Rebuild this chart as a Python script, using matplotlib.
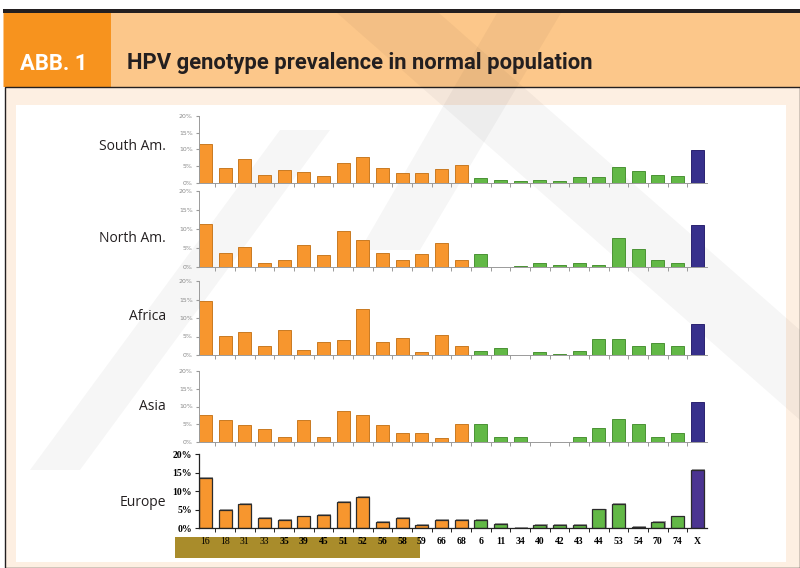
import numpy as np
import matplotlib.pyplot as plt
from matplotlib.patches import Rectangle, Polygon

# HPV genotypes: high-risk (orange), low-risk (green), unknown X (purple)
genotypes = ['16', '18', '31', '33', '35', '39', '45', '51', '52', '56', '58', '59', '66', '68',
             '6', '11', '34', '40', '42', '43', '44', '53', '54', '70', '74', 'X']
n_high = 14
n_low = 11

regions = ['South Am.', 'North Am.', 'Africa', 'Asia', 'Europe']

south_am = [11.5, 4.5, 7.2, 2.2, 3.7, 3.3, 2.0, 6.0, 7.8, 4.3, 3.0, 3.0, 4.1, 5.2,
            1.4, 0.8, 0.4, 0.8, 0.4, 1.6, 1.8, 4.6, 3.4, 2.2, 1.9, 9.8]
north_am = [11.3, 3.5, 5.1, 1.0, 1.9, 5.8, 3.0, 9.5, 7.0, 3.6, 1.9, 3.4, 6.2, 1.8,
            3.4, 0.0, 0.3, 0.9, 0.4, 1.1, 0.5, 7.7, 4.8, 1.9, 1.1, 10.9]
africa = [14.6, 5.1, 6.2, 2.5, 6.8, 1.4, 3.5, 4.1, 12.3, 3.6, 4.5, 0.7, 5.5, 2.4,
          1.0, 1.9, 0.0, 0.7, 0.4, 1.0, 4.2, 4.2, 2.5, 3.2, 2.5, 8.3]
asia = [7.5, 6.3, 4.9, 3.8, 1.4, 6.3, 1.4, 8.8, 7.5, 4.9, 2.5, 2.5, 1.3, 5.0,
        5.0, 1.4, 1.4, 0.0, 0.0, 1.4, 3.9, 6.4, 5.0, 1.4, 2.5, 11.3]
europe = [13.7, 5.0, 6.6, 2.8, 2.3, 3.2, 3.5, 7.0, 8.4, 1.6, 2.7, 0.8, 2.3, 2.3,
          2.3, 1.1, 0.0, 0.8, 0.8, 0.8, 5.1, 6.7, 0.4, 1.6, 3.2, 15.8]
series = [south_am, north_am, africa, asia, europe]

W, H = 800, 568
fig = plt.figure(figsize=(W / 100, H / 100), dpi=100)


def fx(x):
    return x / W


def fy(y):
    return 1 - y / H


def add_rect(x0, y0, x1, y1, z=-10, **kw):
    fig.patches.append(Rectangle((fx(x0), fy(y1)), fx(x1) - fx(x0), fy(y0) - fy(y1),
                                 transform=fig.transFigure, zorder=z, **kw))


title_font = ['Roboto', 'DejaVu Sans']

# header
add_rect(3, 9.5, 800, 13, facecolor='#231f20', edgecolor='none')
add_rect(3, 13, 800, 87, facecolor='#fcc78a', edgecolor='none')
add_rect(4, 13, 111, 87, facecolor='#f7931e', edgecolor='none')
fig.text(fx(20), fy(63.5), 'ABB. 1', color='white', fontsize=15.8, fontweight='bold',
         family=title_font, va='center', ha='left')
fig.text(fx(127), fy(63.5), 'HPV genotype prevalence in normal population', color='#231f20',
         fontsize=15.8, fontweight='bold', family=title_font, va='center', ha='left')

# body frame
add_rect(5, 87, 800, 568, facecolor='#fdefe2', edgecolor='#231f20', linewidth=1.0)
add_rect(16, 105, 786, 562, z=-9, facecolor='white', edgecolor='none')

# faint watermark
wm = [[(337, 13), (439, 13), (800, 330), (800, 420)],
      [(497, 13), (561, 13), (420, 250), (360, 250)],
      [(30, 470), (80, 470), (330, 130), (280, 130)]]
for pts in wm:
    fig.patches.append(Polygon([(fx(a), fy(b)) for a, b in pts], closed=True,
                               transform=fig.transFigure, facecolor='black', zorder=-8,
                               alpha=0.035, edgecolor='none'))

colors = ['#f7962e'] * n_high + ['#62b846'] * n_low + ['#37308c']
edges = ['#c97a22'] * n_high + ['#4a9234'] * n_low + ['#2a2270']

# panel positions in pixels: (top of 20%, bottom at 0%)
panel_px = [(116, 182.7), (191, 266.7), (281, 355), (370.7, 442.3), (454.3, 528.3)]
label_y = [146, 238, 316, 406, 503]
x_left, x_right = 199, 707
x = np.arange(len(genotypes))

for i, (name, vals) in enumerate(zip(regions, series)):
    top, bot = panel_px[i]
    ax = fig.add_axes([fx(x_left), fy(bot), fx(x_right) - fx(x_left), fy(top) - fy(bot)])
    ax.set_facecolor('none')
    europe_style = name == 'Europe'
    if europe_style:
        eu_colors = colors[:-1] + ['#4b3491']
        ax.bar(x + 0.06, np.array(vals) + 0.25, width=0.66, color='#a0a0a0', edgecolor='none',
               zorder=1)
        ax.bar(x, vals, width=0.66, color=eu_colors, edgecolor='#2b2b2b', linewidth=0.9,
               zorder=2)
        spine_c = '#222222'
    else:
        ax.bar(x, vals, width=0.66, color=colors, edgecolor=edges, linewidth=0.7)
        spine_c = '#9a9a9a'
    ax.set_xlim(-0.33, len(genotypes) - 0.5)
    ax.set_ylim(0, 20)
    for s in ['top', 'right']:
        ax.spines[s].set_visible(False)
    for s in ['left', 'bottom']:
        ax.spines[s].set_color(spine_c)
        ax.spines[s].set_linewidth(0.9 if europe_style else 0.7)
    ax.set_yticks([0, 5, 10, 15, 20])
    ax.set_yticklabels(['0%', '5%', '10%', '15%', '20%'])
    ax.set_xticks(x[:-1] + 0.5, minor=True)
    ax.tick_params(axis='x', which='minor', length=3, color=spine_c, width=0.7)
    if europe_style:
        ax.tick_params(axis='y', length=3, color=spine_c, labelsize=7, pad=2)
        for t in ax.get_yticklabels():
            t.set_family('Liberation Serif')
            t.set_fontweight('bold')
        ax.set_xticks(x)
        ax.set_xticklabels(genotypes)
        ax.tick_params(axis='x', which='major', length=0, pad=6, labelsize=7)
        for j, t in enumerate(ax.get_xticklabels()):
            t.set_family('Liberation Serif')
            t.set_fontweight('normal' if j < 4 else 'bold')
    else:
        ax.tick_params(axis='y', length=2.5, color=spine_c, labelsize=4.5, labelcolor='#8a8a8a',
                       pad=2)
        ax.set_xticks([])
    fig.text(fx(166), fy(label_y[i]), name, fontsize=10, color='#231f20',
             family=['Open Sans', 'DejaVu Sans'], ha='right', va='center')

# olive band under high-risk types
add_rect(175, 537, 420, 558, z=-7, facecolor='#a98c2b', edgecolor='none')

fig.savefig('out.png', dpi=100)
